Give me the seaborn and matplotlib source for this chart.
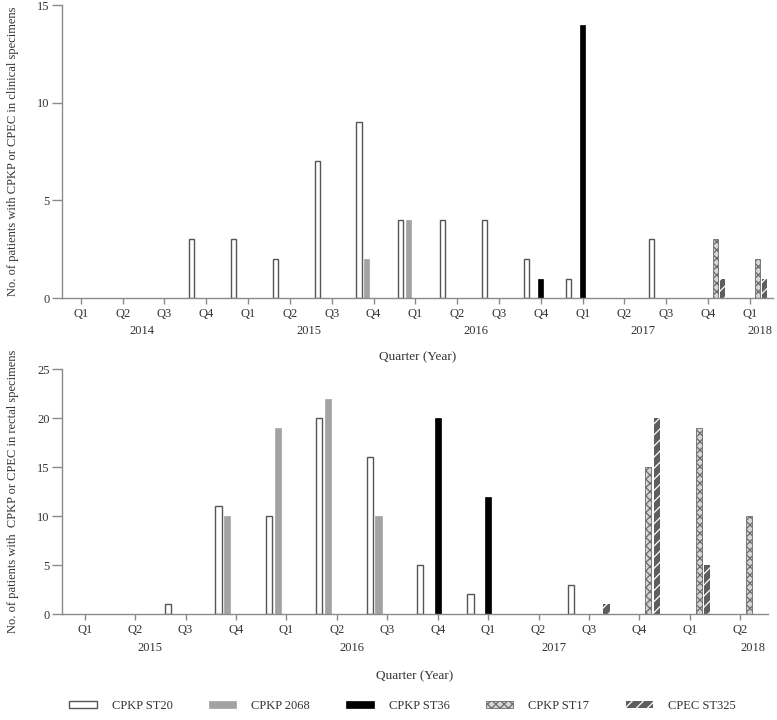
import numpy as np
import pandas as pd
import seaborn as sns
import matplotlib.pyplot as plt
from matplotlib.patches import Patch
import matplotlib.transforms as mtransforms

strains = ['CPKP ST20', 'CPKP 2068', 'CPKP ST36', 'CPKP ST17', 'CPEC ST325']

# clinical specimens, 2014 Q1 .. 2018 Q1
clin_quarters = ['2014Q1', '2014Q2', '2014Q3', '2014Q4',
                 '2015Q1', '2015Q2', '2015Q3', '2015Q4',
                 '2016Q1', '2016Q2', '2016Q3', '2016Q4',
                 '2017Q1', '2017Q2', '2017Q3', '2017Q4',
                 '2018Q1']
clin_st20 = [0, 0, 0, 3, 3, 2, 7, 9, 4, 4, 4, 2, 1, 0, 3, 0, 0]
clin_2068 = [0, 0, 0, 0, 0, 0, 0, 2, 4, 0, 0, 0, 0, 0, 0, 0, 0]
clin_st36 = [0, 0, 0, 0, 0, 0, 0, 0, 0, 0, 0, 1, 14, 0, 0, 0, 0]
clin_st17 = [0, 0, 0, 0, 0, 0, 0, 0, 0, 0, 0, 0, 0, 0, 0, 3, 2]
clin_st325 = [0, 0, 0, 0, 0, 0, 0, 0, 0, 0, 0, 0, 0, 0, 0, 1, 1]
clin_years = ['2014', '2015', '2016', '2017', '2018']

# rectal specimens, 2015 Q1 .. 2018 Q2
rect_quarters = ['2015Q1', '2015Q2', '2015Q3', '2015Q4',
                 '2016Q1', '2016Q2', '2016Q3', '2016Q4',
                 '2017Q1', '2017Q2', '2017Q3', '2017Q4',
                 '2018Q1', '2018Q2']
rect_st20 = [0, 0, 1, 11, 10, 20, 16, 5, 2, 0, 3, 0, 0, 0]
rect_2068 = [0, 0, 0, 10, 19, 22, 10, 0, 0, 0, 0, 0, 0, 0]
rect_st36 = [0, 0, 0, 0, 0, 0, 0, 20, 12, 0, 0, 0, 0, 0]
rect_st17 = [0, 0, 0, 0, 0, 0, 0, 0, 0, 0, 0, 15, 19, 10]
rect_st325 = [0, 0, 0, 0, 0, 0, 0, 0, 0, 0, 1, 20, 5, 0]
rect_years = ['2015', '2016', '2017', '2018']

face = ['white', '#a3a3a3', 'black', '#d6d6d6', '#5e5e5e']
edge = ['#555555', '#a3a3a3', 'black', '#6a6a6a', 'white']
hatches = [None, None, None, 'xxxx', '///']
lws = [1.0, 0.5, 0.5, 0.6, 0.0]

TXT = '#333333'
SPINE = '#8a8a8a'

sns.set_style('ticks')
plt.rcParams['font.family'] = ['Liberation Serif', 'DejaVu Serif']
plt.rcParams['font.size'] = 9
plt.rcParams['text.color'] = TXT
plt.rcParams['axes.labelcolor'] = TXT
plt.rcParams['xtick.color'] = SPINE
plt.rcParams['ytick.color'] = SPINE
plt.rcParams['xtick.labelcolor'] = TXT
plt.rcParams['ytick.labelcolor'] = TXT
plt.rcParams['hatch.linewidth'] = 0.9


def long_df(quarters, series):
    rows = []
    for name, vals in zip(strains, series):
        for q, v in zip(quarters, vals):
            rows.append({'quarter': q, 'strain': name, 'count': v})
    return pd.DataFrame(rows)


def draw(ax, quarters, series, ymax, years, year_off, ylabel, year_y, xlab_y, lab_x):
    df = long_df(quarters, series)
    sns.barplot(data=df, x='quarter', y='count', hue='strain', order=quarters,
                hue_order=strains, palette=dict(zip(strains, face)),
                width=0.87, gap=0.3, errorbar=None, legend=False, ax=ax)
    for i, cont in enumerate(ax.containers):
        for p in cont.patches:
            p.set_facecolor(face[i])
            p.set_edgecolor(edge[i])
            p.set_linewidth(lws[i])
            if hatches[i]:
                p.set_hatch(hatches[i])
            if p.get_height() == 0:
                p.set_visible(False)
    n = len(quarters)
    ax.set_xlim(-0.45, n - 0.45)
    ax.set_ylim(0, ymax)
    ax.set_yticks(np.arange(0, ymax + 1, 5))
    ax.set_xticks(range(n))
    ax.set_xticklabels([q[4:] for q in quarters])
    sns.despine(ax=ax)
    for s in ['left', 'bottom']:
        ax.spines[s].set_color(SPINE)
        ax.spines[s].set_linewidth(1.0)
    ax.tick_params(axis='x', length=4, width=1.0, pad=3, labelsize=9)
    ax.tick_params(axis='y', length=7, width=1.0, pad=2, labelsize=9)
    ax.set_ylabel(ylabel, fontsize=9)
    ax.yaxis.set_label_coords(lab_x, 0.5)
    ax.set_xlabel('Quarter (Year)', fontsize=9.5)
    ax.xaxis.set_label_coords(0.5, xlab_y)
    trans = mtransforms.blended_transform_factory(ax.transData, ax.transAxes)
    for k, yr in enumerate(years):
        xpos = 4 * k + year_off
        if xpos > n - 1:
            xpos = n - 1 + 0.25
        ax.text(xpos, year_y, yr, transform=trans, ha='center', va='center', fontsize=9)


fig = plt.figure(figsize=(7.77, 7.2), dpi=100)
ax1 = fig.add_axes([0.0798, 0.586, 0.915, 0.407])
ax2 = fig.add_axes([0.0798, 0.1472, 0.9086, 0.340])

draw(ax1, clin_quarters, [clin_st20, clin_2068, clin_st36, clin_st17, clin_st325], 15,
     clin_years, 1.45, 'No. of patients with CPKP or CPEC in clinical specimens',
     -0.113, -0.181, -0.060)
draw(ax2, rect_quarters, [rect_st20, rect_2068, rect_st36, rect_st17, rect_st325], 25,
     rect_years, 1.3, 'No. of patients with  CPKP or CPEC in rectal specimens',
     -0.139, -0.229, -0.061)

handles = [Patch(facecolor=face[i], edgecolor=edge[i],
                 hatch=hatches[i], linewidth=lws[i]) for i in range(5)]
fig.legend(handles, strains, loc='center', bbox_to_anchor=(0.518, 0.0194), ncol=5,
           frameon=False, handlelength=2.2, handleheight=0.45, handletextpad=1.2,
           columnspacing=2.9, fontsize=9)

fig.savefig('out.png', dpi=100)
